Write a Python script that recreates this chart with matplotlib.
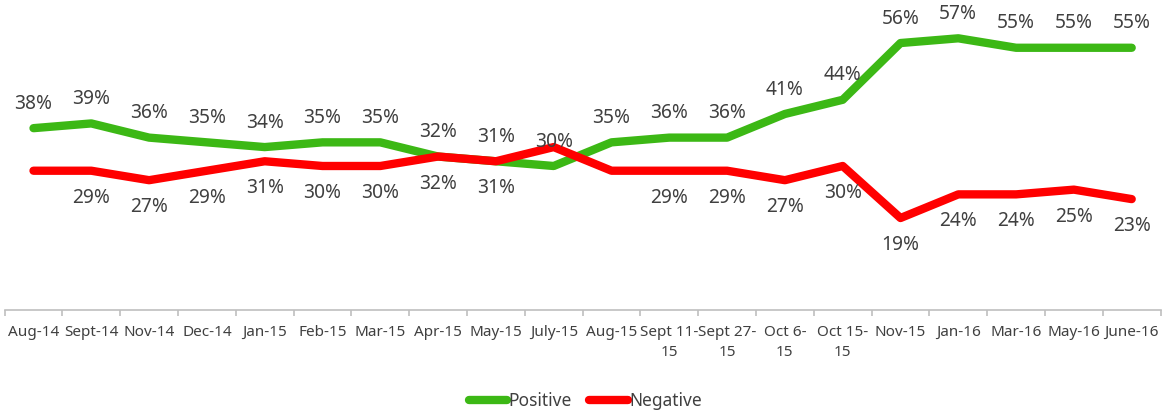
import numpy as np
import matplotlib.pyplot as plt

categories = ['Aug-14', 'Sept-14', 'Nov-14', 'Dec-14', 'Jan-15', 'Feb-15', 'Mar-15',
              'Apr-15', 'May-15', 'July-15', 'Aug-15', 'Sept 11-\n15', 'Sept 27-\n15',
              'Oct 6-\n15', 'Oct 15-\n15', 'Nov-15', 'Jan-16', 'Mar-16', 'May-16', 'June-16']
positive = [38, 39, 36, 35, 34, 35, 35, 32, 31, 30, 35, 36, 36, 41, 44, 56, 57, 55, 55, 55]
negative = [29, 29, 27, 29, 31, 30, 30, 32, 31, 34, 29, 29, 29, 27, 30, 19, 24, 24, 25, 23]
# labels shown in the chart (some negative labels are hidden)
positive_labels = [f'{v}%' for v in positive]
negative_labels = ['', '29%', '27%', '29%', '31%', '30%', '30%', '32%', '31%', '',
                   '', '29%', '29%', '27%', '30%', '19%', '24%', '24%', '25%', '23%']

plt.rcParams['font.family'] = ['Noto Sans', 'DejaVu Sans']
txt = '#404040'

fig = plt.figure(figsize=(11.71, 4.13), dpi=100)
ax = fig.add_axes([4.6/1171, 1 - 310/413, 1156/1171, 310/413])

x = np.arange(len(categories))
ax.plot(x, positive, color='#3CB815', lw=6, solid_capstyle='round', solid_joinstyle='round', label='Positive')
ax.plot(x, negative, color='#FF0000', lw=6, solid_capstyle='round', solid_joinstyle='round', label='Negative')

for i in range(len(x)):
    if positive_labels[i]:
        ax.annotate(positive_labels[i], (x[i], positive[i]), xytext=(0, 17.5), textcoords='offset points',
                    ha='center', va='center', fontsize=13.8, color=txt)
    if negative_labels[i]:
        ax.annotate(negative_labels[i], (x[i], negative[i]), xytext=(0, -19.5), textcoords='offset points',
                    ha='center', va='center', fontsize=13.8, color=txt)

ax.set_xlim(-0.5, len(categories) - 0.5)
ax.set_ylim(-0.45, 65.1)
for s in ['top', 'right', 'left']:
    ax.spines[s].set_visible(False)
ax.spines['bottom'].set_color('#BFBFBF')
ax.spines['bottom'].set_linewidth(1.2)
ax.set_yticks([])
ax.set_xticks(x)
ax.set_xticklabels(categories, fontsize=11, color=txt, linespacing=1.45)
ax.tick_params(axis='x', which='major', length=0, pad=11)
ax.set_xticks(np.arange(-0.5, len(categories), 1), minor=True)
ax.tick_params(axis='x', which='minor', length=4, color='#BFBFBF', width=1.2)

fig.legend(loc='center', bbox_to_anchor=(0.5, 1 - 401/413), ncol=2, frameon=False,
           fontsize=12.5, handlelength=2.2, handletextpad=0.1, columnspacing=1.0, labelcolor=txt)

fig.savefig('out.png', dpi=100)
